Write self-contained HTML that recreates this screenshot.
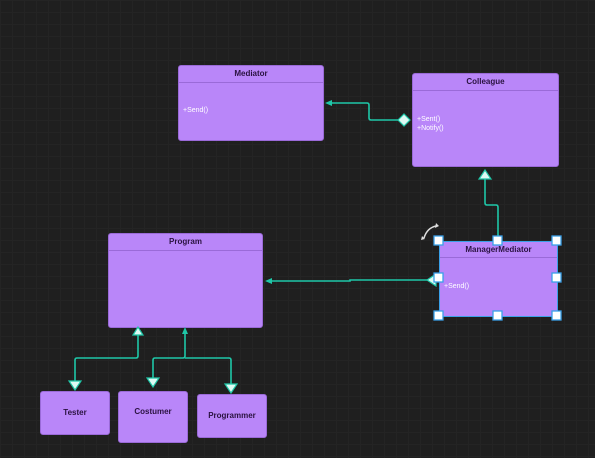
<!DOCTYPE html>
<html><head><style>
body{margin:0;width:595px;height:458px;background:#1f1f1f;overflow:hidden;font-family:"Liberation Sans",sans-serif;
background-image:linear-gradient(#242424 1px,transparent 1px),linear-gradient(90deg,#242424 1px,transparent 1px);background-size:12px 12px;}
.b{position:absolute;background:#b986f9;border:1px solid #9a6ad8;border-radius:3px;box-sizing:border-box}
.h{font-size:8px;font-weight:bold;color:#2a1240;text-align:center;padding-top:3px;height:14px;border-bottom:1px solid #9a6ad8;box-sizing:border-box}
.t{position:absolute;font-size:7px;color:#fff;left:4px;line-height:9px}
.c{font-size:8px;font-weight:bold;color:#2a1240;text-align:center;position:absolute;width:100%}
</style></head><body>
<div class="b" style="left:178px;top:65px;width:146px;height:76px"><div class="h" style="height:17px">Mediator</div><div class="t" style="top:40px">+Send()</div></div>
<div class="b" style="left:412px;top:73px;width:147px;height:94px"><div class="h" style="height:17px">Colleague</div><div class="t" style="top:41px">+Sent()<br>+Notify()</div></div>
<div class="b" style="left:108px;top:233px;width:155px;height:95px"><div class="h" style="height:17px">Program</div></div>
<div class="b" style="left:439px;top:241px;width:119px;height:76px;border:1.5px solid #3aa0e8"><div class="h" style="height:16px">ManagerMediator</div><div class="t" style="top:40px">+Send()</div></div>
<div class="b" style="left:40px;top:391px;width:70px;height:44px"><div class="c" style="top:16px">Tester</div></div>
<div class="b" style="left:118px;top:391px;width:70px;height:52px"><div class="c" style="top:15px">Costumer</div></div>
<div class="b" style="left:197px;top:394px;width:70px;height:44px"><div class="c" style="top:16px">Programmer</div></div>
<svg width="595" height="458" style="position:absolute;left:0;top:0">
<g fill="none" stroke="#1fc7a8" stroke-width="1.6">
<path d="M328 103H367Q369 103 369 105V118Q369 120 371 120H399"/>
<path d="M485 178V203Q485 205 487 205H496Q498 205 498 207V237"/>
<path d="M428 280H350V281H268"/>
<path d="M138 334V356Q138 358 136 358H77Q75 358 75 360V382"/>
<path d="M185 331V356Q185 358 183 358H155Q153 358 153 360V378"/>
<path d="M185 358H229Q231 358 231 360V385"/>
</g>
<g fill="#1fc7a8"><path d="M325 103l7-3v6z"/><path d="M265 281l7-3v6z"/><path d="M185 327l-3 7h6z"/></g>
<g fill="#dffaf4" stroke="#1fc7a8" stroke-width="1.2">
<path d="M398 120l6-6 6 6-6 6z"/>
<path d="M485 170l-6 9h12z"/>
<path d="M138 327l-5 8h10z"/>
<path d="M427 280l9-6v12z"/>
<path d="M69 381h12l-6 9z"/><path d="M147 378h12l-6 9z"/><path d="M225 384h12l-6 9z"/>
</g>
<g fill="#fff" stroke="#3aa0e8" stroke-width="1.3">
<rect x="434" y="236" width="9" height="9"/><rect x="493" y="236" width="9" height="9"/><rect x="552" y="236" width="9" height="9"/>
<rect x="434" y="273" width="9" height="9"/><rect x="552" y="273" width="9" height="9"/>
<rect x="434" y="311" width="9" height="9"/><rect x="493" y="311" width="9" height="9"/><rect x="552" y="311" width="9" height="9"/>
</g>
<path d="M424 238Q427 228 436 226" fill="none" stroke="#ddd" stroke-width="1.5"/>
<path d="M436 223l3 3-4 2zM422 236l3 3-4 1z" fill="#ddd"/>
</svg>
</body></html>
